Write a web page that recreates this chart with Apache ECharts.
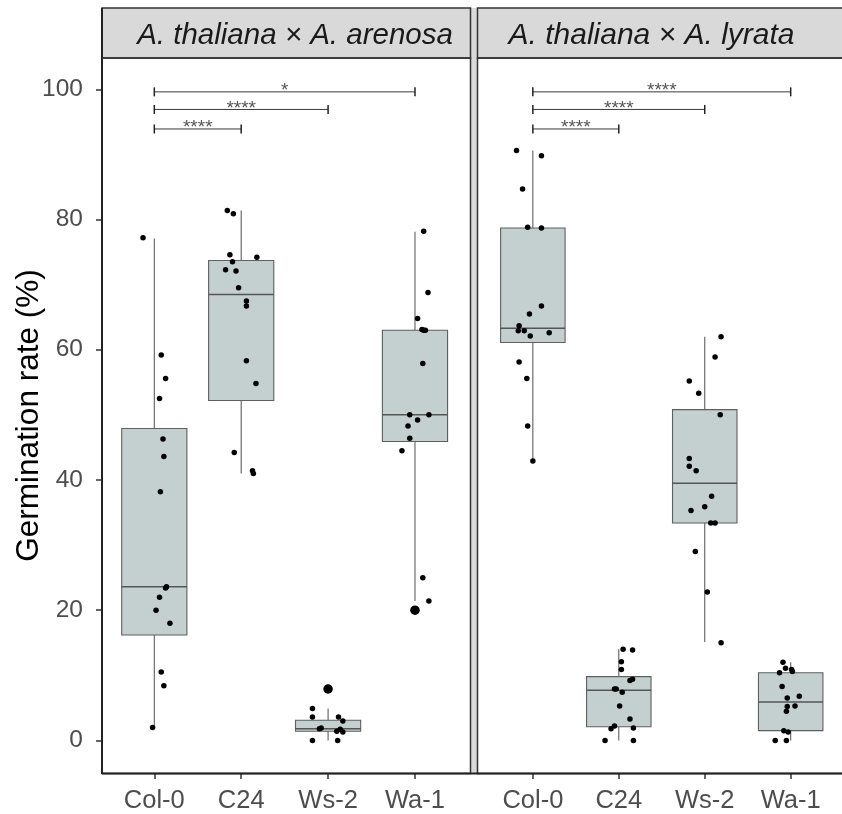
<!DOCTYPE html>
<html>
<head>
<meta charset="utf-8">
<script src="https://cdn.jsdelivr.net/npm/echarts@6/dist/echarts.min.js"></script>
<style>
html,body{margin:0;padding:0;background:#fff;}
#chart{width:842px;height:814px;}
</style>
</head>
<body>
<div id="chart"></div>
<script>
const categories = ['Col-0', 'C24', 'Ws-2', 'Wa-1'];
const panelTitles = ['A. thaliana \u00d7 A. arenosa', 'A. thaliana \u00d7 A. lyrata'];
const yTicks = [0, 20, 40, 60, 80, 100];
const yAxisTitle = 'Germination rate (%)';

// A. thaliana x A. arenosa — jittered observations (value) and their jitter offsets (category units)
const arenosaCol0 = [77.2, 59.2, 55.6, 52.5, 46.3, 43.6, 38.2, 23.6, 23.4, 22.0, 20.0, 18.0, 10.5, 8.4, 2.0];
const arenosaCol0Jit = [-0.13, 0.08, 0.13, 0.06, 0.10, 0.11, 0.07, 0.14, 0.13, 0.06, 0.02, 0.18, 0.08, 0.11, -0.02];
const arenosaC24 = [81.4, 80.9, 74.6, 74.2, 73.5, 72.3, 72.1, 69.5, 67.5, 66.7, 58.3, 54.8, 44.2, 41.4, 41.0];
const arenosaC24Jit = [-0.16, -0.09, -0.13, 0.18, -0.10, -0.18, -0.06, -0.03, 0.06, 0.06, 0.06, 0.17, -0.08, 0.13, 0.14];
const arenosaWs2 = [7.9, 4.9, 3.6, 3.6, 3.0, 1.9, 1.8, 1.4, 1.7, 1.3, 0, 0];
const arenosaWs2Jit = [0, -0.18, -0.18, 0.12, 0.17, -0.08, -0.10, 0.10, 0.14, 0.17, -0.18, 0.11];
const arenosaWa1 = [78.2, 68.8, 64.8, 63.1, 63.0, 63.0, 57.9, 50.0, 50.0, 49.2, 48.3, 46.4, 44.5, 25.0, 21.4, 20.0];
const arenosaWa1Jit = [0.10, 0.15, 0.03, 0.08, 0.10, 0.12, 0.09, -0.06, 0.16, 0.03, -0.08, -0.06, -0.15, 0.09, 0.16, 0];

// A. thaliana x A. lyrata
const lyrataCol0 = [90.6, 89.8, 84.7, 78.8, 78.7, 66.7, 65.5, 63.7, 62.9, 62.9, 62.1, 62.6, 58.1, 55.6, 48.3, 42.9];
const lyrataCol0Jit = [-0.19, 0.10, -0.12, -0.06, 0.10, 0.10, -0.04, -0.16, -0.17, -0.10, -0.03, 0.19, -0.16, -0.07, -0.06, 0];
const lyrataC24 = [14.0, 13.9, 12.1, 10.9, 9.2, 9.4, 7.9, 7.9, 7.4, 5.3, 3.3, 2.2, 1.8, 1.9, 0, 0];
const lyrataC24Jit = [0.05, 0.16, 0.03, 0.03, 0.13, 0.16, -0.05, -0.03, 0.04, 0.01, 0.13, -0.05, -0.09, 0.17, -0.16, 0.17];
const lyrataWs2 = [62.0, 58.9, 55.2, 53.3, 50.0, 43.3, 42.1, 41.4, 37.5, 35.9, 35.3, 33.4, 33.4, 29.0, 22.8, 15.0];
const lyrataWs2Jit = [0.19, 0.12, -0.18, -0.07, 0.18, -0.18, -0.18, -0.10, 0.08, 0.0, -0.16, 0.07, 0.12, -0.11, 0.03, 0.19];
const lyrataWa1 = [12.0, 11.1, 10.9, 10.6, 10.4, 8.3, 6.8, 6.5, 5.3, 5.2, 4.5, 1.5, 1.3, 0, 0];
const lyrataWa1Jit = [-0.09, -0.06, 0.01, 0.02, -0.13, -0.10, 0.10, -0.04, 0.05, -0.04, -0.05, -0.08, -0.03, -0.18, -0.05];

// Box statistics [lower whisker, Q1, median, Q3, upper whisker] per category
const arenosaBoxes = [[2.0, 16.2, 23.6, 47.9, 77.1], [41.0, 52.2, 68.5, 73.7, 81.4], [0, 1.4, 1.8, 3.1, 4.9], [21.4, 45.9, 50.0, 63.0, 78.1]];
const lyrataBoxes = [[42.9, 61.1, 63.3, 78.7, 90.6], [0, 2.1, 7.7, 9.8, 14.0], [15.1, 33.4, 39.5, 50.8, 62.0], [0, 1.5, 5.9, 10.4, 12.0]];
// Boxplot outliers [category index, value]
const arenosaOutliers = [[2, 7.9], [3, 20.0]];
const lyrataOutliers = [];

// Significance brackets
const bracketFrom = [0, 0, 0];
const bracketTo = [1, 2, 3];
const bracketY = [93.9, 96.9, 99.6];
const arenosaSig = ['****', '****', '*'];
const lyrataSig = ['****', '****', '****'];

// ---------- build ----------
const FONT = '"Liberation Sans", Arial, Helvetica, sans-serif';
const BORDER = '#333333';
const STRIP = '#d9d9d9';

function pointsFor(vals, jits, catIdx) {
  return vals.map((v, i) => [catIdx + jits[i], v]);
}
function boxesFor(stats) {
  return stats.map((s, i) => [i].concat(s));
}
function bracketsFor() {
  return bracketY.map((y, i) => [bracketFrom[i], bracketTo[i], y]);
}

function renderBox(params, api) {
  const x = api.value(0);
  const lo = api.value(1), q1 = api.value(2), med = api.value(3), q3 = api.value(4), hi = api.value(5);
  const half = 0.375;
  const pLo = api.coord([x, lo]), pQ1 = api.coord([x, q1]), pMed = api.coord([x, med]);
  const pQ3 = api.coord([x, q3]), pHi = api.coord([x, hi]);
  const left = api.coord([x - half, q1])[0], right = api.coord([x + half, q1])[0];
  const ls = { stroke: '#5f5f5f', lineWidth: 1.1 };
  return {
    type: 'group',
    children: [
      { type: 'line', shape: { x1: pLo[0], y1: pLo[1], x2: pQ1[0], y2: pQ1[1] }, style: ls },
      { type: 'line', shape: { x1: pQ3[0], y1: pQ3[1], x2: pHi[0], y2: pHi[1] }, style: ls },
      { type: 'rect', shape: { x: left, y: pQ3[1], width: right - left, height: pQ1[1] - pQ3[1] },
        style: { fill: '#c4cfcf', stroke: '#5f5f5f', lineWidth: 1.1 } },
      { type: 'line', shape: { x1: left, y1: pMed[1], x2: right, y2: pMed[1] }, style: { stroke: '#555', lineWidth: 1.5 } }
    ]
  };
}

function makeBracketRenderer(labels) {
  return function (params, api) {
    const x1 = api.value(0), x2 = api.value(1), y = api.value(2);
    const p1 = api.coord([x1, y]), p2 = api.coord([x2, y]);
    const t = 4.5;
    const st = { stroke: '#3a3a3a', lineWidth: 1 };
    return {
      type: 'group',
      children: [
        { type: 'line', shape: { x1: p1[0], y1: p1[1], x2: p2[0], y2: p2[1] }, style: st },
        { type: 'line', shape: { x1: p1[0], y1: p1[1] - t, x2: p1[0], y2: p1[1] + t }, style: { stroke: '#222', lineWidth: 1.5 } },
        { type: 'line', shape: { x1: p2[0], y1: p2[1] - t, x2: p2[0], y2: p2[1] + t }, style: { stroke: '#222', lineWidth: 1.5 } },
        { type: 'text', x: (p1[0] + p2[0]) / 2, y: p1[1] - 1,
          style: { text: labels[params.dataIndex], fill: '#555', fontSize: 19, fontFamily: FONT, align: 'center', verticalAlign: 'middle' } }
      ]
    };
  };
}

const gridTop = 58, gridH = 715.5;
const grids = [
  { left: 102, top: gridTop, width: 368.5, height: gridH },
  { left: 477.5, top: gridTop, width: 367.5, height: gridH }
];
const xRanges = [[-0.602, 3.639], [-0.644, 3.597]];

function xAxisFor(i) {
  return {
    type: 'value', gridIndex: i, min: xRanges[i][0], max: xRanges[i][1], position: 'bottom',
    axisLine: { show: false, onZero: false },
    splitLine: { show: false },
    axisTick: { show: true, customValues: [0, 1, 2, 3], length: 6, inside: false, lineStyle: { color: BORDER, width: 1.5 } },
    axisLabel: { show: true, customValues: [0, 1, 2, 3], margin: 15, color: '#4d4d4d', fontSize: 25.5, fontFamily: FONT,
      formatter: v => categories[Math.round(v)] }
  };
}
function yAxisFor(i) {
  const a = {
    type: 'value', gridIndex: i, min: -5, max: 104.8, position: 'left',
    axisLine: { show: false, onZero: false },
    splitLine: { show: false },
    axisTick: { show: i === 0, customValues: yTicks, length: 6, inside: false, lineStyle: { color: BORDER, width: 1.5 } },
    axisLabel: { show: i === 0, customValues: yTicks, margin: 19, color: '#4d4d4d', fontSize: 24.5, fontFamily: FONT }
  };
  if (i === 0) {
    a.name = yAxisTitle;
    a.nameLocation = 'middle';
    a.nameGap = 57;
    a.nameMoveOverlap = false;
    a.nameTextStyle = { color: '#000', fontSize: 31.5, fontFamily: FONT };
  }
  return a;
}

const series = [];
const panelData = [
  { boxes: arenosaBoxes, outliers: arenosaOutliers, sig: arenosaSig,
    pts: [pointsFor(arenosaCol0, arenosaCol0Jit, 0), pointsFor(arenosaC24, arenosaC24Jit, 1), pointsFor(arenosaWs2, arenosaWs2Jit, 2), pointsFor(arenosaWa1, arenosaWa1Jit, 3)] },
  { boxes: lyrataBoxes, outliers: lyrataOutliers, sig: lyrataSig,
    pts: [pointsFor(lyrataCol0, lyrataCol0Jit, 0), pointsFor(lyrataC24, lyrataC24Jit, 1), pointsFor(lyrataWs2, lyrataWs2Jit, 2), pointsFor(lyrataWa1, lyrataWa1Jit, 3)] }
];
panelData.forEach((p, i) => {
  series.push({
    type: 'custom', xAxisIndex: i, yAxisIndex: i, z: 2, silent: true,
    renderItem: renderBox, data: boxesFor(p.boxes),
    encode: { x: 0, y: [1, 2, 3, 4, 5] }
  });
  series.push({
    type: 'scatter', xAxisIndex: i, yAxisIndex: i, z: 3, silent: true,
    symbolSize: 9.5, itemStyle: { color: '#000', opacity: 1 },
    data: p.outliers
  });
  series.push({
    type: 'scatter', xAxisIndex: i, yAxisIndex: i, z: 4, silent: true,
    symbolSize: 5.5, itemStyle: { color: '#000', opacity: 1 },
    data: [].concat(...p.pts)
  });
  series.push({
    type: 'custom', xAxisIndex: i, yAxisIndex: i, z: 5, silent: true,
    renderItem: makeBracketRenderer(p.sig), data: bracketsFor(),
    encode: { x: [0, 1], y: 2 }
  });
});

const graphics = [
  // gap between panels
  { type: 'rect', shape: { x: 470.5, y: 8, width: 7, height: 765.5 }, style: { fill: STRIP }, z: -1 },
  // strips
  { type: 'rect', shape: { x: 102, y: 8, width: 368.5, height: 50 }, style: { fill: STRIP, stroke: BORDER, lineWidth: 1.5 }, z: 10 },
  { type: 'rect', shape: { x: 477.5, y: 8, width: 370, height: 50 }, style: { fill: STRIP, stroke: BORDER, lineWidth: 1.5 }, z: 10 },
  { type: 'text', x: 295, y: 35.5, style: { text: panelTitles[0], fill: '#1a1a1a', fontSize: 29.5, fontStyle: 'italic', fontFamily: FONT, align: 'center', verticalAlign: 'middle' }, z: 11 },
  { type: 'text', x: 651.5, y: 35.5, style: { text: panelTitles[1], fill: '#1a1a1a', fontSize: 30, fontStyle: 'italic', fontFamily: FONT, align: 'center', verticalAlign: 'middle' }, z: 11 },
  // panel borders
  { type: 'rect', shape: { x: 102, y: 58, width: 368.5, height: 715.5 }, style: { fill: null, stroke: BORDER, lineWidth: 1.5 }, z: 10 },
  { type: 'rect', shape: { x: 477.5, y: 58, width: 370, height: 715.5 }, style: { fill: null, stroke: BORDER, lineWidth: 1.5 }, z: 10 },
  // axis lines (thicker)
  { type: 'line', shape: { x1: 102, y1: 8, x2: 102, y2: 774 }, style: { stroke: '#222', lineWidth: 2 }, z: 12 },
  { type: 'line', shape: { x1: 102, y1: 773.5, x2: 842, y2: 773.5 }, style: { stroke: '#222', lineWidth: 2 }, z: 12 }
];

const chart = echarts.init(document.getElementById('chart'), null, { renderer: 'canvas' });
chart.setOption({
  animation: false,
  backgroundColor: '#ffffff',
  grid: grids,
  xAxis: [xAxisFor(0), xAxisFor(1)],
  yAxis: [yAxisFor(0), yAxisFor(1)],
  series: series,
  graphic: { elements: graphics }
});
</script>
</body>
</html>
